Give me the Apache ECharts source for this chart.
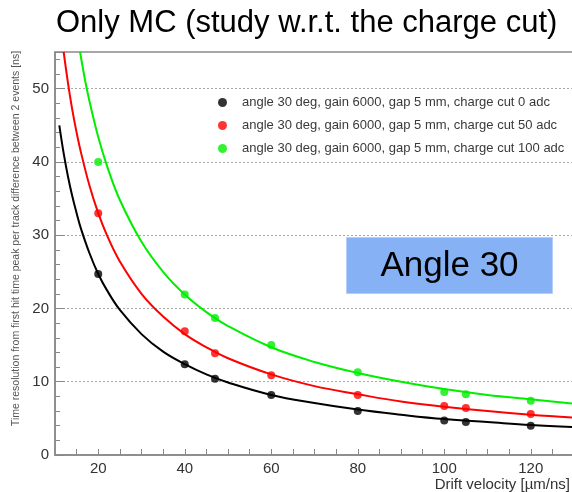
<!DOCTYPE html>
<html>
<head>
<meta charset="utf-8">
<script src="https://cdn.jsdelivr.net/npm/echarts@6/dist/echarts.min.js"></script>
<style>
html,body{margin:0;padding:0;background:#fff;}
#main{width:572px;height:492px;}
</style>
</head>
<body>
<div id="main"></div>
<script>
// measured points (x = drift velocity)
var ptX = [20, 40, 47, 60, 80, 100, 105, 120];
var ptCut0 = [24.7, 12.4, 10.4, 8.2, 6.0, 4.7, 4.5, 4.0];
var ptCut50 = [33.0, 16.9, 13.9, 10.9, 8.2, 6.7, 6.4, 5.6];
var ptCut100 = [40.0, 21.9, 18.7, 15.0, 11.3, 8.6, 8.3, 7.4];

// fit curves
var fitX0 = [11, 12, 13, 14, 15, 16, 18, 20, 22, 25, 30, 35, 40, 45, 50, 60, 70, 80, 90, 100, 110, 120, 130];
var fitY0 = [45.0, 41.2, 38.0, 35.3, 33.0, 30.9, 27.5, 24.7, 22.5, 19.8, 16.5, 14.1, 12.4, 11.0, 9.9, 8.2, 7.1, 6.2, 5.5, 4.9, 4.5, 4.1, 3.8];
var fitX50 = [12, 13, 14, 15, 16, 18, 20, 22, 25, 30, 35, 40, 45, 50, 60, 70, 80, 90, 100, 110, 120, 130];
var fitY50 = [55.0, 50.8, 47.1, 44.0, 41.3, 36.7, 33.0, 30.0, 26.4, 22.0, 18.9, 16.5, 14.7, 13.2, 11.0, 9.4, 8.3, 7.3, 6.6, 6.0, 5.5, 5.1];
var fitX100 = [15.8, 17, 18, 20, 22, 25, 30, 35, 40, 45, 50, 60, 70, 80, 90, 100, 110, 120, 130];
var fitY100 = [55.0, 51.0, 48.2, 43.4, 39.5, 34.8, 29.1, 25.0, 21.9, 19.5, 17.6, 14.7, 12.7, 11.2, 10.0, 9.0, 8.2, 7.6, 7.0];

var names = [
	'angle 30 deg, gain 6000, gap 5 mm, charge cut 0 adc',
	'angle 30 deg, gain 6000, gap 5 mm, charge cut 50 adc',
	'angle 30 deg, gain 6000, gap 5 mm, charge cut 100 adc'
];
var colors = ['#000000', '#ff0000', '#00ee00'];
var xLabels = [20, 40, 60, 80, 100, 120];
var xTicks = [15, 20, 25, 30, 35, 40, 45, 50, 55, 60, 65, 70, 75, 80, 85, 90, 95, 100, 105, 110, 115, 120, 125];

function zip(a, b){
	var out = [];
	for (var i = 0; i < a.length; i++) out.push([a[i], b[i]]);
	return out;
}

var MyEchart = echarts.init(document.getElementById('main'));
var font = 'Liberation Sans, Arial, sans-serif';

var option = {
	animation: false,
	title: {
		text: 'Only MC (study w.r.t. the charge cut)',
		left: 51,
		top: 3,
		textStyle: {fontFamily: font, fontSize: 31, fontWeight: 'normal', color: '#000'}
	},
	legend: {
		orient: 'vertical',
		left: 213,
		top: 91,
		itemGap: 10,
		itemWidth: 9,
		itemHeight: 9,
		icon: 'circle',
		data: names,
		textStyle: {fontFamily: font, fontSize: 13, color: '#3a3a3a', padding: [0, 0, 0, 10]}
	},
	grid: {
		left: 55,
		right: -2,
		top: 52,
		bottom: 37,
		outerBoundsMode: 'none',
		containLabel: false,
		show: true,
		borderColor: '#888',
		borderWidth: 1.5
	},
	xAxis: {
		type: 'value',
		min: 10,
		max: 130,
		axisLine: {show: true, lineStyle: {color: '#888', width: 1.5}},
		axisTick: {show: true, inside: true, length: 6, customValues: xTicks, lineStyle: {color: '#888'}},
		axisLabel: {customValues: xLabels, fontFamily: font, fontSize: 15, color: '#333', margin: 6},
		splitLine: {show: false}
	},
	yAxis: {
		type: 'value',
		min: 0,
		max: 55,
		interval: 10,
		name: 'Time resolution from first hit time peak per track difference between 2 events [ns]',
		nameLocation: 'middle',
		nameGap: 33,
		nameTextStyle: {fontFamily: font, fontSize: 10.5, color: '#555', padding: [0, 0, 0, 30]},
		axisLine: {show: true, lineStyle: {color: '#888', width: 1.5}},
		axisTick: {show: true, inside: true, length: 10, lineStyle: {color: '#888'}},
		minorTick: {show: true, splitNumber: 5, length: 5, lineStyle: {color: '#888'}},
		axisLabel: {fontFamily: font, fontSize: 15, color: '#333', margin: 6,
			formatter: function(v){ return v > 50 ? '' : v; }},
		splitLine: {show: true, lineStyle: {color: '#aaa', type: [2, 2], width: 1}}
	},
	graphic: [{
		// x axis title, right aligned under the axis
		type: 'text',
		right: 2,
		top: 477,
		style: {text: 'Drift velocity [\u00b5m/ns]', fontFamily: font, fontSize: 15, fill: '#333'}
	}, {
		type: 'group',
		left: 346,
		top: 237,
		children: [{
			type: 'rect',
			shape: {x: 0, y: 0, width: 206, height: 56},
			style: {fill: '#86b2f5', stroke: '#b3cff8', lineWidth: 1}
		}, {
			type: 'text',
			x: 103,
			y: 29,
			style: {text: 'Angle 30', fontFamily: font, fontSize: 35, fill: '#000', align: 'center', verticalAlign: 'middle'}
		}]
	}],
	series: [
		{type: 'line', data: zip(fitX0, fitY0), smooth: 0.4, showSymbol: false, silent: true, lineStyle: {color: colors[0], width: 2}, z: 2},
		{type: 'line', data: zip(fitX50, fitY50), smooth: 0.4, showSymbol: false, silent: true, lineStyle: {color: colors[1], width: 2}, z: 2},
		{type: 'line', data: zip(fitX100, fitY100), smooth: 0.4, showSymbol: false, silent: true, lineStyle: {color: colors[2], width: 2}, z: 2},
		{name: names[0], type: 'scatter', data: zip(ptX, ptCut0), symbolSize: 8, itemStyle: {color: colors[0]}, z: 3},
		{name: names[1], type: 'scatter', data: zip(ptX, ptCut50), symbolSize: 8, itemStyle: {color: colors[1]}, z: 3},
		{name: names[2], type: 'scatter', data: zip(ptX, ptCut100), symbolSize: 8, itemStyle: {color: colors[2]}, z: 3}
	]
};
MyEchart.setOption(option);
</script>
</body>
</html>
